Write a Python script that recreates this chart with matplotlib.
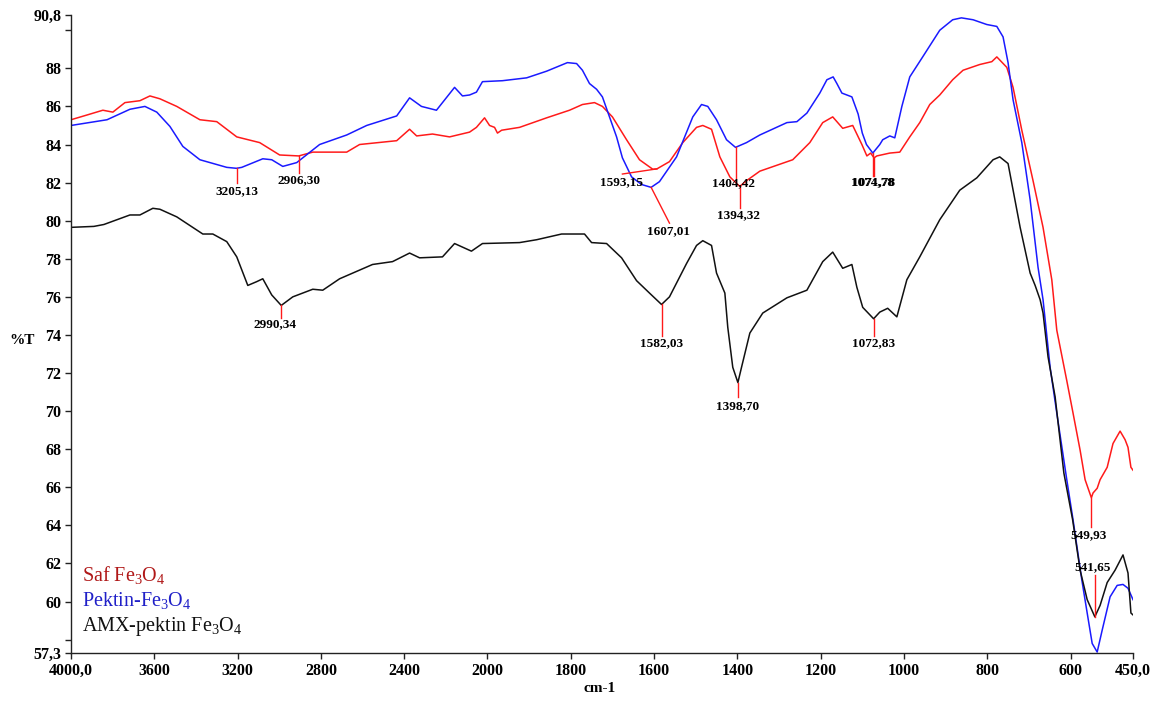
import numpy as np
import matplotlib
matplotlib.use("Agg")
import matplotlib.pyplot as plt

plt.rcParams["font.family"] = ["Liberation Serif", "DejaVu Serif"]
plt.rcParams["mathtext.fontset"] = "custom"
plt.rcParams["mathtext.rm"] = "Liberation Serif"
plt.rcParams["mathtext.it"] = "Liberation Serif"

# ---- FTIR spectra: wavenumber (cm-1) and transmittance (%T) ----
saf_wn = [4000, 3923, 3847, 3799, 3741, 3669, 3621, 3573, 3492, 3381, 3300, 3204,
          3094, 2998, 2906.30, 2839, 2676, 2614, 2436, 2374, 2340, 2264, 2182, 2086,
          2053, 2014, 1995, 1983, 1976, 1966, 1923, 1858, 1803, 1772, 1743, 1724,
          1700, 1666, 1635, 1603, 1593.15, 1563, 1531, 1498, 1483, 1462, 1442, 1418,
          1394.32, 1378, 1346, 1267, 1226, 1195, 1171, 1147, 1123, 1101, 1089, 1080,
          1071.78, 1065, 1034, 1010, 986, 962, 938, 914, 883, 858, 818, 789, 777,
          753, 738, 717, 690, 666, 645, 633, 609, 594, 577, 565, 549.93, 546, 536,
          529, 512, 498, 481, 469, 462, 455, 450]
saf_t = [85.3, 85.55, 85.8, 85.7, 86.2, 86.3, 86.55, 86.4, 86.0, 85.3, 85.2, 84.4,
         84.1, 83.45, 83.4, 83.6, 83.6, 84.0, 84.2, 84.8, 84.45, 84.55, 84.4, 84.65,
         84.9, 85.4, 85.0, 84.9, 84.6, 84.75, 84.9, 85.4, 85.8, 86.1, 86.2, 86.0,
         85.45, 84.25, 83.2, 82.7, 82.72, 83.1, 84.1, 84.9, 85.0, 84.8, 83.35, 82.3,
         81.8, 82.1, 82.6, 83.2, 84.1, 85.15, 85.45, 84.85, 85.0, 84.0, 83.4, 83.55,
         83.3, 83.4, 83.55, 83.6, 84.4, 85.15, 86.1, 86.6, 87.4, 87.9, 88.2, 88.35, 88.6,
         88.05, 87.0, 84.75, 82.1, 79.65, 76.9, 74.25, 71.6, 69.9, 67.95, 66.4, 65.45, 65.7, 65.95,
         66.4, 67.05, 68.3, 68.95, 68.5, 68.1, 67.05, 66.9]

pek_wn = [4000, 3827, 3717, 3645, 3588, 3525, 3463, 3381, 3252, 3205.13, 3180, 3079,
          3036, 2983, 2916, 2806, 2676, 2580, 2436, 2374, 2317, 2245, 2158, 2120,
          2086, 2053, 2024, 1964, 1906, 1858, 1808, 1786, 1772, 1755, 1738, 1724,
          1707, 1690, 1676, 1654, 1630, 1607.01, 1587, 1546, 1507, 1486, 1471, 1450,
          1426, 1404.42, 1378, 1346, 1281, 1257, 1233, 1202, 1185, 1170, 1161, 1149,
          1125, 1110, 1100, 1090, 1074.78, 1058, 1051, 1034, 1022, 1005, 986, 955, 914,
          883, 862, 834, 801, 777, 762, 750, 738, 717, 697, 678, 666, 649, 633, 609,
          594, 573, 560, 548, 536, 524, 505, 488, 474, 462, 455, 450]
pek_t = [85.0, 85.3, 85.85, 86.0, 85.7, 84.95, 83.9, 83.2, 82.8, 82.75, 82.8, 83.25,
         83.2, 82.85, 83.05, 84.0, 84.5, 85.0, 85.5, 86.45, 86.0, 85.8, 87.0, 86.55,
         86.6, 86.75, 87.3, 87.35, 87.5, 87.85, 88.3, 88.25, 87.9, 87.2, 86.9, 86.5,
         85.45, 84.4, 83.3, 82.3, 81.9, 81.75, 82.05, 83.35, 85.45, 86.1, 86.0, 85.3,
         84.25, 83.85, 84.1, 84.5, 85.15, 85.2, 85.65, 86.7, 87.4, 87.55, 87.2, 86.7,
         86.5, 85.6, 84.6, 84.0, 83.55, 84.0, 84.25, 84.45, 84.35, 86.0, 87.55, 88.6, 90.0,
         90.55, 90.65, 90.55, 90.3, 90.2, 89.65, 88.3, 86.35, 84.1, 81.1, 77.55, 75.85, 72.3, 69.9, 66.4,
         64.3, 61.15, 59.4, 57.8, 57.35, 58.5, 60.25, 60.85, 60.9, 60.7, 60.35, 60.1]

amx_wn = [4000, 3890, 3842, 3717, 3669, 3607, 3573, 3492, 3367, 3319, 3252, 3204,
          3151, 3108, 3079, 3036, 2990.34, 2935, 2839, 2791, 2710, 2552, 2456, 2374,
          2326, 2216, 2158, 2077, 2024, 1923, 1882, 1822, 1767, 1750, 1714, 1678,
          1642, 1611, 1582.03, 1563, 1522, 1498, 1483, 1462, 1450, 1430, 1423, 1411,
          1398.70, 1390, 1370, 1339, 1281, 1233, 1195, 1171, 1147, 1125, 1113, 1099,
          1072.83, 1058, 1039, 1017, 993, 962, 914, 866, 825, 786, 770, 750, 721,
          697, 685, 673, 666, 654, 637, 616, 595, 577, 560, 541.65, 529, 512, 493,
          474, 462, 455, 450]
amx_t = [79.65, 79.7, 79.8, 80.3, 80.3, 80.65, 80.6, 80.2, 79.3, 79.3, 78.9, 78.1,
         76.6, 76.8, 76.95, 76.1, 75.55, 76.0, 76.4, 76.35, 76.95, 77.7, 77.85, 78.3,
         78.05, 78.1, 78.8, 78.4, 78.8, 78.85, 79.0, 79.3, 79.3, 78.85, 78.8, 78.05,
         76.85, 76.2, 75.6, 76.0, 77.75, 78.7, 78.95, 78.7, 77.25, 76.2, 74.4, 72.3,
         71.5, 72.3, 74.1, 75.15, 75.95, 76.35, 77.85, 78.35, 77.5, 77.7, 76.5, 75.45,
         74.85, 75.2, 75.4, 74.95, 76.9, 78.1, 80.05, 81.6, 82.25, 83.2, 83.35, 83.0, 79.65,
         77.25, 76.6, 75.85, 75.15, 72.85, 70.75, 66.75, 64.3, 61.65, 60.1, 59.2, 59.8, 61.0, 61.65,
         62.45, 61.5, 59.4, 59.3]

x_ticks = [4000, 3600, 3200, 2800, 2400, 2000, 1800, 1600, 1400, 1200, 1000, 800, 600, 450]
x_tick_labels = ["4000,0", "3600", "3200", "2800", "2400", "2000", "1800", "1600",
                 "1400", "1200", "1000", "800", "600", "450,0"]
y_ticks = [57.3, 58, 60, 62, 64, 66, 68, 70, 72, 74, 76, 78, 80, 82, 84, 86, 88, 90, 90.8]
y_tick_labels = ["57,3", "", "60", "62", "64", "66", "68", "70", "72", "74", "76",
                 "78", "80", "82", "84", "86", "88", "", "90,8"]

RED = "#ff1a1a"
BLUE = "#1a1aff"
BLACK = "#111111"


# wavenumbers above 2000 cm-1 are drawn at half scale
def fwd(w):
    w = np.asarray(w, dtype=float)
    return np.where(w > 2000, 2000 + (w - 2000) / 2.0, w)


def inv(u):
    u = np.asarray(u, dtype=float)
    return np.where(u > 2000, 2000 + (u - 2000) * 2.0, u)


fig = plt.figure(figsize=(11.61, 7.02), dpi=100)
ax = fig.add_axes([71 / 1161, 49 / 702, 1062 / 1161, 638 / 702])
ax.set_xscale("function", functions=(fwd, inv))

series = [(saf_wn, saf_t, RED), (pek_wn, pek_t, BLUE), (amx_wn, amx_t, BLACK)]
for wn, t, c in series:
    ax.plot(wn, t, color=c, lw=1.1)

ax.set_xlim(4000, 450)
ax.set_ylim(57.3, 90.8)

ax.set_xticks(x_ticks)
ax.set_xticklabels(x_tick_labels)
ax.set_yticks(y_ticks)
ax.set_yticklabels(y_tick_labels)
ax.minorticks_off()
ax.tick_params(direction="out", length=4, width=1, color="#222222", pad=3)
for lab in ax.get_xticklabels() + ax.get_yticklabels():
    lab.set_fontsize(11.5)
    lab.set_fontweight("bold")
for s in ("top", "right"):
    ax.spines[s].set_visible(False)
for s in ("left", "bottom"):
    ax.spines[s].set_linewidth(1.0)
    ax.spines[s].set_color("#222222")


def curve_at(wn, t, w):
    wn = np.asarray(wn)[::-1]
    t = np.asarray(t)[::-1]
    return float(np.interp(w, wn, t))


LBL = dict(fontsize=9.5, fontweight="bold", ha="center", va="center", color="black")


def peak(wn, t, w, y_end, text, tx=None, ty=None):
    y0 = curve_at(wn, t, w)
    ax.plot([w, w], [y0, y_end], color=RED, lw=1.0)
    ax.text(w if tx is None else tx, ty, text, **LBL)


# peak labels
peak(pek_wn, pek_t, 3205.13, 82.0, "3205,13", ty=81.55)
peak(saf_wn, saf_t, 2906.30, 82.5, "2906,30", ty=82.12)
peak(pek_wn, pek_t, 1404.42, 82.25, "1404,42", tx=1410, ty=81.97)
peak(saf_wn, saf_t, 1394.32, 80.66, "1394,32", tx=1398, ty=80.28)
peak(saf_wn, saf_t, 1071.78, 82.35, "1071,78", ty=82.0)
peak(pek_wn, pek_t, 1074.78, 82.35, "1074,78", ty=82.0)
peak(amx_wn, amx_t, 2990.34, 74.9, "2990,34", tx=3020, ty=74.55)
peak(amx_wn, amx_t, 1582.03, 73.95, "1582,03", ty=73.57)
peak(amx_wn, amx_t, 1398.70, 70.74, "1398,70", ty=70.26)
peak(amx_wn, amx_t, 1072.83, 73.95, "1072,83", ty=73.57)
peak(saf_wn, saf_t, 549.93, 63.9, "549,93", tx=556, ty=63.48)
peak(amx_wn, amx_t, 541.65, 61.4, "541,65", tx=546, ty=61.8)

# slanted leaders
y1593 = curve_at(saf_wn, saf_t, 1593.15)
ax.plot([1593.15, 1676], [y1593, 82.45], color=RED, lw=1.0)
ax.text(1678, 82.03, "1593,15", **LBL)
y1607 = curve_at(pek_wn, pek_t, 1607.01)
ax.plot([1607.01, 1563], [y1607, 79.87], color=RED, lw=1.0)
ax.text(1565, 79.45, "1607,01", **LBL)

# axis titles
fig.text(22 / 1161, 1 - 341 / 702, "%T", fontsize=11, fontweight="bold",
         ha="center", va="center")
fig.text(600 / 1161, 1 - 689 / 702, "cm-1", fontsize=11, fontweight="bold",
         ha="center", va="center")

# series legend
legend_rows = [("Saf Fe$_3$O$_4$", "#b01818", 0.122),
               ("Pektin-Fe$_3$O$_4$", "#2020c8", 0.083),
               ("AMX-pektin Fe$_3$O$_4$", "#111111", 0.041)]
for txt, col, yy in legend_rows:
    ax.text(0.0105, yy, txt, transform=ax.transAxes, fontsize=14.5, color=col,
            ha="left", va="center")

fig.savefig("out.png", dpi=100)
